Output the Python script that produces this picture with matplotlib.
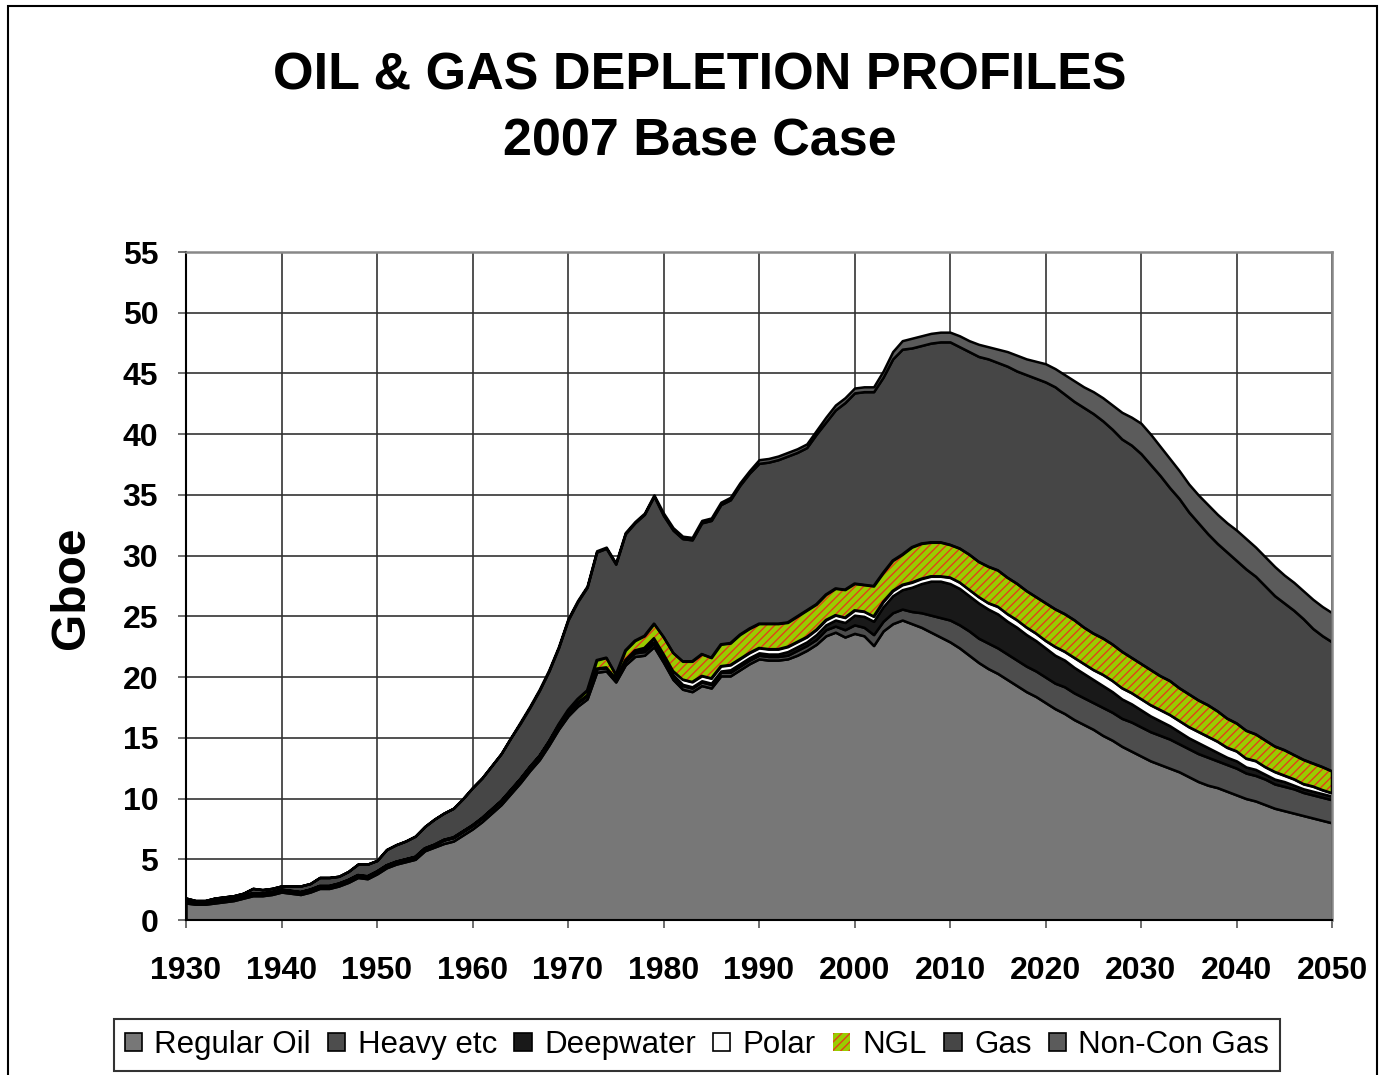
import numpy as np
import matplotlib
matplotlib.use('Agg')
import matplotlib.pyplot as plt
from matplotlib.patches import Patch, Rectangle

plt.rcParams['font.family'] = ['Liberation Sans', 'DejaVu Sans']
plt.rcParams['hatch.linewidth'] = 1.0

years = np.arange(1930, 2051)

# Gboe per year (1930..2050)
regular_oil = [
    1.4, 1.3, 1.3, 1.4, 1.5, 1.6, 1.8, 2.0, 2.0, 2.1,
    2.3, 2.2, 2.1, 2.3, 2.6, 2.6, 2.8, 3.1, 3.5, 3.4,
    3.8, 4.3, 4.6, 4.8, 5.0, 5.7, 6.0, 6.3, 6.5, 7.0,
    7.5, 8.1, 8.8, 9.5, 10.4, 11.3, 12.3, 13.2, 14.4, 15.7,
    16.8, 17.6, 18.2, 20.4, 20.5, 19.6, 21.0, 21.7, 21.8, 22.5,
    21.2, 19.8, 19.0, 18.8, 19.3, 19.1, 20.1, 20.1, 20.6, 21.1,
    21.5, 21.4, 21.4, 21.5, 21.8, 22.2, 22.7, 23.4, 23.7, 23.3,
    23.6, 23.4, 22.6, 23.8, 24.4, 24.7, 24.4, 24.1, 23.7, 23.3,
    22.9, 22.4, 21.8, 21.2, 20.7, 20.3, 19.8, 19.3, 18.8, 18.4,
    17.9, 17.4, 17.0, 16.5, 16.1, 15.7, 15.2, 14.8, 14.3, 13.9,
    13.5, 13.1, 12.8, 12.5, 12.2, 11.8, 11.4, 11.1, 10.9, 10.6,
    10.3, 10.0, 9.8, 9.5, 9.2, 9.0, 8.8, 8.6, 8.4, 8.2,
    8.0]
heavy = [
    0.2, 0.2, 0.2, 0.2, 0.2, 0.2, 0.2, 0.2, 0.2, 0.2,
    0.2, 0.2, 0.2, 0.2, 0.2, 0.2, 0.2, 0.2, 0.2, 0.2,
    0.2, 0.2, 0.2, 0.2, 0.2, 0.2, 0.2, 0.3, 0.3, 0.3,
    0.3, 0.3, 0.3, 0.3, 0.3, 0.3, 0.3, 0.3, 0.3, 0.3,
    0.3, 0.3, 0.3, 0.3, 0.3, 0.3, 0.3, 0.3, 0.3, 0.3,
    0.3, 0.3, 0.3, 0.3, 0.3, 0.3, 0.3, 0.3, 0.3, 0.3,
    0.3, 0.3, 0.3, 0.3, 0.4, 0.4, 0.4, 0.5, 0.5, 0.6,
    0.7, 0.7, 0.9, 0.8, 0.9, 0.9, 1.0, 1.2, 1.4, 1.6,
    1.8, 1.9, 2.0, 2.0, 2.1, 2.1, 2.1, 2.1, 2.1, 2.1,
    2.1, 2.1, 2.2, 2.2, 2.2, 2.2, 2.3, 2.3, 2.3, 2.4,
    2.4, 2.4, 2.4, 2.4, 2.3, 2.3, 2.3, 2.3, 2.2, 2.2,
    2.2, 2.1, 2.1, 2.1, 2.0, 2.0, 2.0, 1.9, 1.9, 1.9,
    1.9]
deepwater = [
    0, 0, 0, 0, 0, 0, 0, 0, 0, 0,
    0, 0, 0, 0, 0, 0, 0, 0, 0, 0,
    0, 0, 0, 0, 0, 0, 0, 0, 0, 0,
    0, 0, 0, 0, 0, 0, 0, 0, 0, 0,
    0, 0, 0, 0, 0, 0, 0.1, 0.1, 0.1, 0.1,
    0.1, 0.1, 0.1, 0.1, 0.1, 0.1, 0.1, 0.2, 0.2, 0.2,
    0.2, 0.2, 0.2, 0.3, 0.3, 0.3, 0.4, 0.4, 0.5, 0.6,
    0.8, 0.9, 1.1, 1.2, 1.4, 1.6, 2.0, 2.4, 2.8, 3.0,
    3.0, 3.0, 2.9, 2.9, 2.8, 2.8, 2.7, 2.7, 2.6, 2.5,
    2.4, 2.3, 2.2, 2.1, 2.0, 1.9, 1.8, 1.7, 1.6, 1.5,
    1.4, 1.3, 1.2, 1.1, 1.0, 0.9, 0.9, 0.8, 0.7, 0.6,
    0.6, 0.5, 0.5, 0.4, 0.4, 0.4, 0.3, 0.3, 0.3, 0.3,
    0.3]
polar = [
    0, 0, 0, 0, 0, 0, 0, 0, 0, 0,
    0, 0, 0, 0, 0, 0, 0, 0, 0, 0,
    0, 0, 0, 0, 0, 0, 0, 0, 0, 0,
    0, 0, 0, 0, 0, 0, 0, 0, 0, 0,
    0, 0, 0, 0, 0, 0, 0, 0.1, 0.2, 0.3,
    0.3, 0.3, 0.4, 0.4, 0.4, 0.4, 0.4, 0.4, 0.4, 0.4,
    0.4, 0.4, 0.4, 0.4, 0.4, 0.4, 0.4, 0.4, 0.4, 0.4,
    0.4, 0.4, 0.4, 0.4, 0.4, 0.4, 0.4, 0.4, 0.4, 0.4,
    0.5, 0.5, 0.5, 0.5, 0.5, 0.6, 0.6, 0.6, 0.6, 0.6,
    0.6, 0.7, 0.7, 0.8, 0.8, 0.8, 0.9, 0.9, 0.9, 0.9,
    0.9, 0.9, 0.9, 0.9, 0.9, 0.9, 0.9, 0.9, 0.9, 0.8,
    0.8, 0.7, 0.7, 0.6, 0.6, 0.5, 0.5, 0.4, 0.4, 0.3,
    0.25]
ngl = [
    0, 0, 0, 0, 0, 0, 0, 0, 0, 0,
    0, 0, 0, 0, 0, 0, 0, 0, 0, 0,
    0, 0, 0, 0, 0, 0, 0, 0, 0, 0,
    0, 0, 0, 0, 0, 0, 0, 0, 0, 0.1,
    0.2, 0.3, 0.4, 0.7, 0.8, 0.3, 0.8, 0.8, 1.0, 1.2,
    1.4, 1.5, 1.5, 1.7, 1.8, 1.7, 1.8, 1.8, 2.0, 2.0,
    2.0, 2.1, 2.1, 2.0, 2.1, 2.2, 2.1, 2.1, 2.2, 2.3,
    2.2, 2.2, 2.5, 2.4, 2.5, 2.5, 2.9, 2.9, 2.8, 2.8,
    2.7, 2.8, 2.9, 2.9, 3.0, 3.0, 3.0, 3.0, 3.0, 3.0,
    3.1, 3.1, 3.1, 3.1, 3.0, 3.0, 3.0, 3.0, 3.0, 2.9,
    2.9, 2.9, 2.8, 2.8, 2.7, 2.7, 2.6, 2.6, 2.5, 2.4,
    2.3, 2.3, 2.2, 2.2, 2.1, 2.1, 2.0, 2.0, 1.9, 1.9,
    1.8]
gas = [
    0.2, 0.1, 0.1, 0.2, 0.2, 0.2, 0.2, 0.4, 0.3, 0.3,
    0.3, 0.4, 0.5, 0.5, 0.7, 0.7, 0.6, 0.7, 0.9, 1.0,
    0.9, 1.3, 1.4, 1.5, 1.7, 1.8, 2.1, 2.2, 2.4, 2.7,
    3.1, 3.3, 3.6, 3.9, 4.3, 4.6, 4.9, 5.4, 5.8, 6.3,
    7.4, 8.0, 8.5, 8.9, 9.0, 9.1, 9.6, 9.7, 10.0, 10.5,
    10.0, 10.1, 10.1, 10.0, 10.8, 11.3, 11.5, 11.8, 12.3, 12.8,
    13.2, 13.3, 13.5, 13.7, 13.5, 13.4, 14.0, 14.2, 14.7, 15.4,
    15.7, 15.9, 16.0, 16.1, 16.6, 16.9, 16.4, 16.3, 16.4, 16.5,
    16.7, 16.6, 16.7, 16.9, 17.1, 17.1, 17.4, 17.5, 17.8, 18.0,
    18.2, 18.3, 18.1, 18.0, 18.1, 18.1, 17.9, 17.7, 17.5, 17.5,
    17.3, 16.9, 16.5, 15.9, 15.6, 15.0, 14.6, 14.1, 13.8, 13.7,
    13.4, 13.3, 13.0, 12.7, 12.4, 12.1, 11.9, 11.6, 11.1, 10.8,
    10.65]
noncon_gas = [
    0, 0, 0, 0, 0, 0, 0, 0, 0, 0,
    0, 0, 0, 0, 0, 0, 0, 0, 0, 0,
    0, 0, 0, 0, 0, 0, 0, 0, 0, 0,
    0, 0, 0, 0, 0, 0.1, 0.1, 0.1, 0.1, 0.1,
    0.1, 0.1, 0.1, 0.1, 0.1, 0.1, 0.1, 0.1, 0.1, 0.1,
    0.2, 0.2, 0.2, 0.2, 0.2, 0.2, 0.2, 0.2, 0.2, 0.2,
    0.3, 0.3, 0.3, 0.3, 0.3, 0.3, 0.3, 0.4, 0.4, 0.4,
    0.4, 0.4, 0.4, 0.5, 0.6, 0.7, 0.8, 0.8, 0.8, 0.8,
    0.8, 0.9, 0.9, 1.0, 1.0, 1.1, 1.2, 1.3, 1.3, 1.4,
    1.5, 1.5, 1.6, 1.7, 1.7, 1.8, 1.9, 2.0, 2.2, 2.3,
    2.5, 2.5, 2.4, 2.4, 2.3, 2.3, 2.3, 2.4, 2.4, 2.4,
    2.5, 2.5, 2.4, 2.4, 2.4, 2.3, 2.3, 2.3, 2.4, 2.4,
    2.4]

labels = ['Regular Oil', 'Heavy etc', 'Deepwater', 'Polar', 'NGL', 'Gas', 'Non-Con Gas']
colors = ['#777777', '#4d4d4d', '#191919', '#ffffff', '#99cc00', '#464646', '#5b5b5b']
series = [regular_oil, heavy, deepwater, polar, ngl, gas, noncon_gas]

fig = plt.figure(figsize=(13.79, 10.75), dpi=100)
ax = fig.add_axes([186 / 1379, 1 - 920 / 1075, 1146 / 1379, 668 / 1075])

lower = np.zeros(len(years))
for vals, col, lab in zip(series, colors, labels):
    upper = lower + np.array(vals)
    if lab == 'NGL':
        ax.fill_between(years, lower, upper, facecolor=col, edgecolor='#e2401a',
                        hatch='////', linewidth=0, zorder=2)
        ax.fill_between(years, lower, upper, facecolor='none', edgecolor='black',
                        linewidth=1.8, zorder=3)
    else:
        ax.fill_between(years, lower, upper, facecolor=col, edgecolor='black',
                        linewidth=1.8, zorder=2)
    lower = upper

ax.set_xlim(1930, 2050)
ax.set_ylim(0, 55)
ax.set_xticks(np.arange(1930, 2051, 10))
ax.set_yticks(np.arange(0, 56, 5))
ax.grid(True, color='#333333', linewidth=1.2)
ax.set_axisbelow(True)
ax.tick_params(axis='both', direction='out', length=6, width=1.2, color='#555555')
ax.tick_params(axis='x', pad=20, labelsize=23)
ax.tick_params(axis='y', pad=14, labelsize=23)
for lbl in ax.get_xticklabels() + ax.get_yticklabels():
    lbl.set_fontweight('bold')
for side in ['left', 'bottom']:
    ax.spines[side].set_color('black')
    ax.spines[side].set_linewidth(1.5)
for side in ['top', 'right']:
    ax.spines[side].set_color('#888888')
    ax.spines[side].set_linewidth(1.8)

fig.text(72 / 1379, 1 - 588 / 1075, 'Gboe', rotation=90, ha='center', va='center',
         fontsize=34.5, fontweight='bold')
fig.text(700 / 1379, 1 - 76 / 1075, 'OIL & GAS DEPLETION PROFILES', ha='center',
         va='center', fontsize=37.5, fontweight='bold')
fig.text(700 / 1379, 1 - 142 / 1075, '2007 Base Case', ha='center', va='center',
         fontsize=37.5, fontweight='bold')

handles = []
for col, lab in zip(colors, labels):
    if lab == 'NGL':
        handles.append(Patch(facecolor=col, edgecolor='#e2401a', hatch='////',
                             linewidth=0, label=lab))
    else:
        handles.append(Patch(facecolor=col, edgecolor='black', linewidth=1.2, label=lab))
leg = fig.legend(handles=handles, loc='center', bbox_to_anchor=(697 / 1379, 1 - 1045 / 1075),
                 ncol=7, fontsize=22.5, frameon=True, fancybox=False, edgecolor='black',
                 handlelength=0.55, handleheight=0.55, handletextpad=0.4,
                 columnspacing=0.55, borderpad=0.35)
leg.get_frame().set_linewidth(1.5)

# outer chart border
fig.patches.append(Rectangle((8 / 1379, -0.05), 1 - 2 / 1379 - 8 / 1379, 1.05 - 6 / 1075,
                             transform=fig.transFigure, fill=False, edgecolor='black',
                             linewidth=1.5))

fig.savefig('out.png', dpi=100)
